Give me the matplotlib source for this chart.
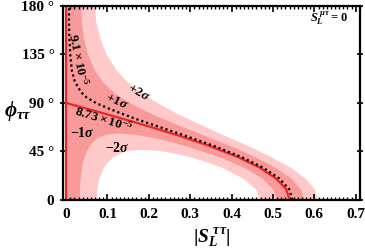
import matplotlib
matplotlib.use("Agg")
import matplotlib.pyplot as plt
from matplotlib.ticker import FixedLocator

plt.rcParams['font.family'] = ['Liberation Serif', 'DejaVu Serif']
plt.rcParams['font.weight'] = 'bold'
plt.rcParams['mathtext.fontset'] = 'custom'
plt.rcParams['mathtext.rm'] = 'Liberation Serif:bold'
plt.rcParams['mathtext.it'] = 'Liberation Serif:bold:italic'
plt.rcParams['mathtext.bf'] = 'Liberation Serif:bold'

# upper boundaries (phi in degrees, |S| values)
phi_up = [0, 10, 20, 30, 40, 50, 60, 70, 75, 80, 85, 90, 95, 100, 110, 120, 135, 150, 165, 180]
s_plus2 = [0.607, 0.600, 0.578, 0.543, 0.496, 0.442, 0.382, 0.325, 0.297, 0.270, 0.245, 0.222,
           0.200, 0.180, 0.147, 0.122, 0.097, 0.082, 0.072, 0.069]
s_plus1 = [0.575, 0.567, 0.544, 0.507, 0.457, 0.399, 0.334, 0.268, 0.237, 0.207, 0.180, 0.155,
           0.133, 0.115, 0.087, 0.069, 0.052, 0.042, 0.037, 0.036]
s_dot = [0.547, 0.539, 0.515, 0.476, 0.423, 0.358, 0.285, 0.208, 0.170, 0.135, 0.102, 0.072,
         0.050, 0.036, 0.021, 0.014, 0.010, 0.008, 0.007, 0.007]

# central value curve
phi_c = [0, 10, 20, 30, 40, 50, 60, 70, 80, 90]
s_c = [0.540, 0.532, 0.507, 0.468, 0.414, 0.347, 0.270, 0.185, 0.094, 0.0]

# lower boundaries (closed loops)
phi_m1 = [0, 10, 20, 30, 40, 50, 55, 58, 61, 62, 62.06]
s_m1_lo = [0.032, 0.032, 0.034, 0.037, 0.043, 0.055, 0.066, 0.076, 0.097, 0.119, 0.127]
s_m1_hi = [0.509, 0.500, 0.474, 0.431, 0.371, 0.292, 0.244, 0.210, 0.165, 0.135, 0.127]

phi_m2 = [0, 10, 20, 30, 35, 40, 44, 45, 46, 46.5, 46.9]
s_m2_lo = [0.073, 0.074, 0.079, 0.090, 0.099, 0.113, 0.133, 0.141, 0.153, 0.162, 0.184]
s_m2_hi = [0.467, 0.458, 0.428, 0.378, 0.343, 0.301, 0.255, 0.240, 0.222, 0.209, 0.184]

x_ticks = [0, 0.1, 0.2, 0.3, 0.4, 0.5, 0.6, 0.7]
x_labels = ['0', '0.1', '0.2', '0.3', '0.4', '0.5', '0.6', '0.7']
y_ticks = [0, 45, 90, 135, 180]
y_labels = ['0', '45 °', '90 °', '135 °', '180 °']

light = '#ffc9c9'
mid = '#f89a9a'
red = '#e8262a'

fig = plt.figure(figsize=(3.65, 2.49), dpi=100)
ax = fig.add_axes([0.172, 0.197, 0.814, 0.779])

ax.fill_betweenx(phi_up, 0, s_plus2, color=light, lw=0)
ax.fill_betweenx(phi_up, 0, s_plus1, color=mid, lw=0)
ax.fill_betweenx(phi_m1, s_m1_lo, s_m1_hi, color=light, lw=0)
ax.fill_betweenx(phi_m2, s_m2_lo, s_m2_hi, color='white', lw=0)

ax.axvline(0, color=red, lw=1.6)
ax.plot(s_c, phi_c, color=red, lw=1.6)
ax.plot(s_dot, phi_up, color='black', lw=1.6, linestyle=(0, (1, 1.3)))

ax.set_xlim(-0.008, 0.71)
ax.set_ylim(0, 180)

ax.set_xticks(x_ticks)
ax.set_xticklabels(x_labels)
ax.xaxis.set_minor_locator(FixedLocator([i / 100 for i in range(0, 72)]))
ax.set_yticks(y_ticks)
ax.set_yticklabels(y_labels)
ax.tick_params(axis='x', which='major', direction='in', top=True, length=4, width=1.2, labelsize=11, pad=6)
ax.tick_params(axis='x', which='minor', direction='in', top=True, length=2.2, width=1.0)
ax.tick_params(axis='y', which='major', direction='inout', right=True, length=4, width=1.2, labelsize=11, pad=4)
for sp in ax.spines.values():
    sp.set_linewidth(1.6)

ax.set_xlabel(r'$|S_L^{\ \tau\tau}|$', fontsize=14, labelpad=4)
ax.set_ylabel(r'$\phi_{\tau\tau}$', fontsize=15, rotation=0, ha='center', va='center')
ax.yaxis.set_label_coords(-0.152, 0.46)

ax.text(0.03, 130, r'$9.1\times10^{-5}$', rotation=-78, fontsize=9.5, ha='center', va='center')
ax.text(0.09, 75, r'$8.73\times10^{-5}$', rotation=-17, fontsize=9.5, ha='center', va='center')
ax.text(0.122, 91, r'$+1\sigma$', rotation=-25, fontsize=9.5, ha='center', va='center')
ax.text(0.175, 100, r'$+2\sigma$', rotation=-30, fontsize=9.5, ha='center', va='center')
ax.text(0.04, 62, r'$-1\sigma$', fontsize=10, ha='center', va='center')
ax.text(0.125, 48.5, r'$-2\sigma$', fontsize=10, ha='center', va='center')
ax.text(0.895, 0.935, r'$S_L^{\ \mu\tau}=0$', transform=ax.transAxes, fontsize=9,
        ha='center', va='center')

fig.savefig('out.png', dpi=100)
